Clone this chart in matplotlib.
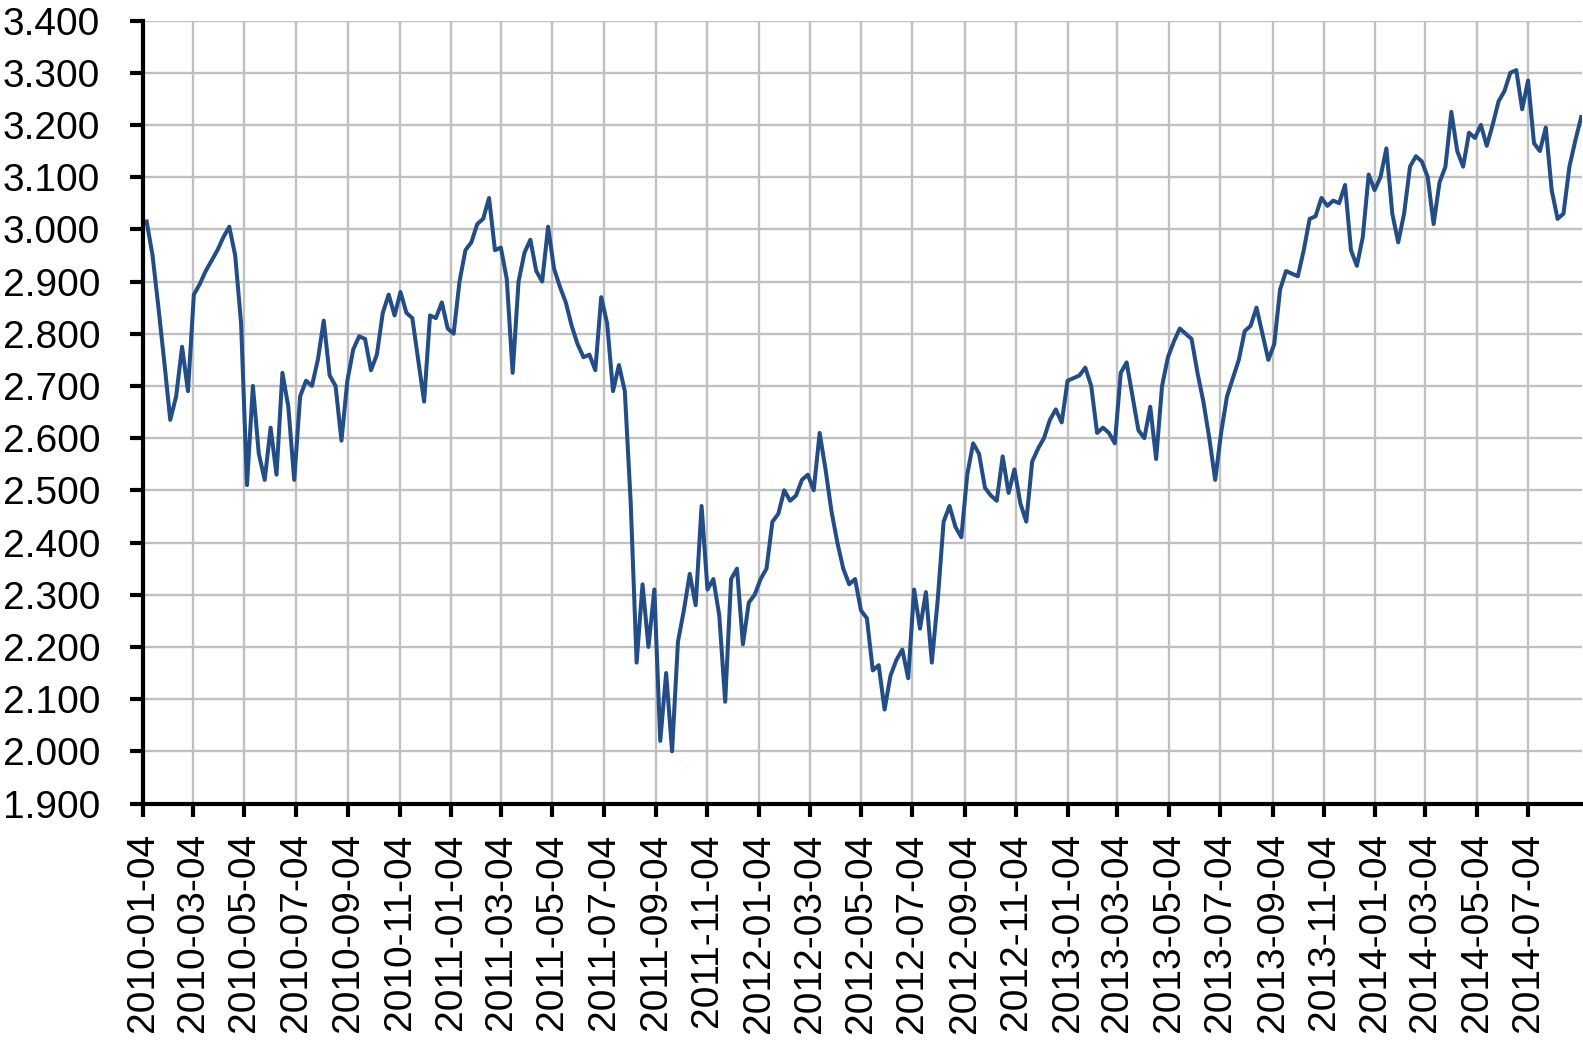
"""Weekly index closes from January 2010 to September 2014 as one line chart."""

import matplotlib

matplotlib.use("Agg")
import matplotlib.pyplot as plt  # noqa: E402
import matplotlib.ticker as mticker  # noqa: E402
import pandas as pd  # noqa: E402

# Friday closes (index points), one list per calendar year.
FIRST_FRIDAY = "2010-01-08"
close_2010 = [
    3015, 2950, 2850, 2745, 2635, 2680, 2775, 2690, 2875, 2895, 2920, 2940, 2960,
    2985, 3005, 2950, 2820, 2510, 2700, 2570, 2520, 2620, 2530, 2725, 2660, 2520,
    2680, 2710, 2700, 2750, 2825, 2720, 2700, 2595, 2710, 2770, 2795, 2790, 2730,
    2760, 2840, 2875, 2835, 2880, 2840, 2830, 2750, 2670, 2835, 2830, 2860, 2810,
]
close_2011 = [
    2800, 2900, 2960, 2975, 3010, 3020, 3060, 2960, 2965, 2905, 2725, 2900, 2955,
    2980, 2920, 2900, 3005, 2925, 2890, 2860, 2815, 2780, 2755, 2760, 2730, 2870,
    2820, 2690, 2740, 2690, 2475, 2170, 2320, 2200, 2310, 2020, 2150, 2000, 2210,
    2270, 2340, 2280, 2470, 2310, 2330, 2260, 2095, 2330, 2350, 2205, 2285, 2300,
]
close_2012 = [
    2330, 2350, 2440, 2455, 2500, 2480, 2490, 2520, 2530, 2500, 2610, 2540, 2460,
    2400, 2350, 2320, 2330, 2270, 2255, 2155, 2165, 2080, 2145, 2175, 2195, 2140,
    2310, 2235, 2305, 2170, 2290, 2440, 2470, 2430, 2410, 2530, 2590, 2570, 2505,
    2490, 2480, 2565, 2495, 2540, 2475, 2440, 2555, 2580, 2600, 2635, 2655, 2630,
]
close_2013 = [
    2710, 2715, 2720, 2735, 2700, 2610, 2620, 2610, 2590, 2725, 2745, 2680, 2615,
    2600, 2660, 2560, 2700, 2755, 2785, 2810, 2800, 2790, 2725, 2670, 2600, 2520,
    2610, 2680, 2715, 2750, 2805, 2815, 2850, 2800, 2750, 2780, 2885, 2920, 2915,
    2910, 2960, 3020, 3025, 3060, 3045, 3055, 3050, 3085, 2960, 2930, 2985, 3105,
]
close_2014 = [
    3075, 3100, 3155, 3030, 2975, 3030, 3120, 3140, 3130, 3100, 3010, 3090, 3120,
    3225, 3150, 3120, 3185, 3175, 3200, 3160, 3200, 3245, 3265, 3300, 3305, 3230,
    3285, 3165, 3150, 3195, 3075, 3020, 3030, 3120, 3170, 3215,
]

TICK_START = "2010-01-04"
TICK_END = "2014-07-04"
X_END = "2014-09-06"
Y_MIN, Y_MAX, Y_STEP = 1900, 3400, 100


def thousands_dot(value, _pos):
    """Format 3400 as '3.400'."""
    return f"{value:,.0f}".replace(",", ".")


def main() -> None:
    plt.rcParams["font.family"] = ["Liberation Sans", "DejaVu Sans"]

    closes = close_2010 + close_2011 + close_2012 + close_2013 + close_2014
    dates = pd.date_range(FIRST_FRIDAY, periods=len(closes), freq="W-FRI")
    ticks = pd.date_range(TICK_START, TICK_END, freq=pd.DateOffset(months=2))

    fig = plt.figure(figsize=(15.83, 10.46), dpi=100)
    ax = fig.add_axes([0.0905, 0.2318, 0.9089, 0.7486])

    ax.plot(dates, closes, color="#234d87", linewidth=2.9)

    ax.set_xlim(pd.Timestamp(TICK_START), pd.Timestamp(X_END))
    ax.set_xticks(ticks)
    ax.set_xticklabels([d.strftime("%Y-%m-%d") for d in ticks], rotation=90)
    ax.set_ylim(Y_MIN, Y_MAX)
    ax.set_yticks(range(Y_MIN, Y_MAX + 1, Y_STEP))
    ax.yaxis.set_major_formatter(mticker.FuncFormatter(thousands_dot))

    ax.grid(True, color="#c0c0c0", linewidth=1.7)
    ax.set_axisbelow(True)
    for side in ("top", "right"):
        ax.spines[side].set_visible(False)
    for side in ("left", "bottom"):
        ax.spines[side].set_linewidth(3)

    ax.tick_params(direction="out", length=9.4, width=3, labelsize=28)
    ax.tick_params(axis="y", pad=21.6)
    ax.tick_params(axis="x", pad=12)

    fig.savefig("out.png", dpi=100)
    plt.close(fig)


if __name__ == "__main__":
    main()
